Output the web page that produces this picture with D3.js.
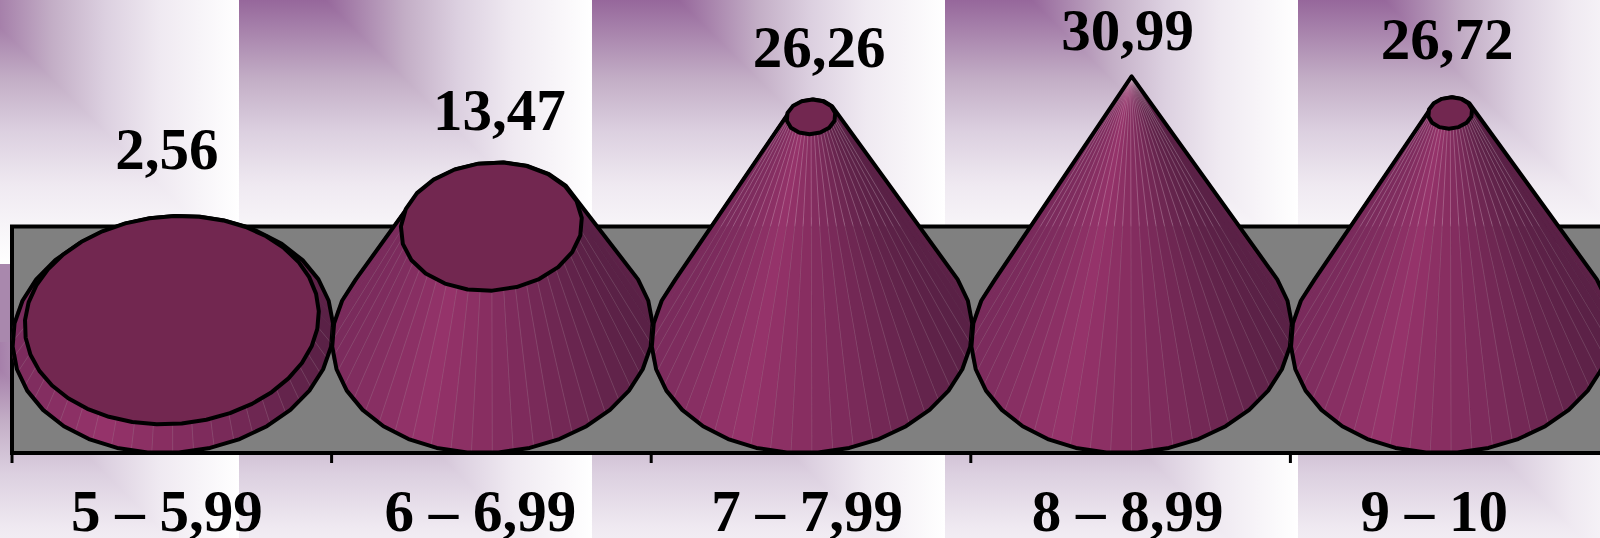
<!DOCTYPE html>
<html lang="en">

<head>
  <meta charset="UTF-8">
  <title>Cones</title>
  <style>
    * {
      margin: 0;
    }

    body {
      background: #fff;
      overflow: hidden;
    }

    svg {
      display: block;
    }

    text {
      font-family: "Liberation Serif", "Times New Roman", serif;
      font-weight: bold;
      font-size: 59px;
      fill: #000;
    }
  </style>
</head>

<body>
  <div id="chart"></div>
  <script src="https://cdnjs.cloudflare.com/ajax/libs/d3/7.8.5/d3.min.js"></script>
  <script>
    const categories = ['5 – 5,99', '6 – 6,99', '7 – 7,99', '8 – 8,99', '9 – 10'];
    const values = [2.56, 13.47, 26.26, 30.99, 26.72];

    // hand placed labels, the original has them off centre
    const labelDx = [-5, 8, 8, -3, -3];
    const labelGap = [46.5, 32, 33, 26.5, 38];
    const categoryDx = [-5, -11, -4, -3, -16];

    const width = 1600;
    const height = 538;
    const wallTop = 226.5;
    const wallBottom = 453;
    const baseY = 335;
    const baseRx = 160;
    const baseRy = 118;
    const capRatio = 0.71;
    const skew = 0.06; // the ellipses lean a little, bottom to the left
    const facets = 48;

    const svg = d3.select('#chart')
      .append('svg')
      .attr('width', width)
      .attr('height', height);

    const defs = svg.append('defs');

    // background tile: purple corner fading out, with a crease along the diagonal
    const fade = [
      [0, '#96679b'], [0.3, '#c3aec6'], [0.5, '#dcd0e0'], [0.7, '#efe9f1'], [1, '#ffffff']
    ];
    const tileW = 353;
    const tileH = 264;

    function addGradient(id, x1, y1, x2, y2) {
      const g = defs.append('linearGradient')
        .attr('id', id)
        .attr('gradientUnits', 'userSpaceOnUse')
        .attr('x1', x1).attr('y1', y1)
        .attr('x2', x2).attr('y2', y2);
      g.selectAll('stop').data(fade).join('stop')
        .attr('offset', d => d[0])
        .attr('stop-color', d => d[1]);
    }
    addGradient('fadeV', 0, 0, 0, tileH);
    addGradient('fadeH', 86, 0, tileW, 0);

    function addTile(id, y, shift) {
      const p = defs.append('pattern')
        .attr('id', id)
        .attr('patternUnits', 'userSpaceOnUse')
        .attr('x', -114).attr('y', y)
        .attr('width', tileW).attr('height', tileH + shift);
      if (shift) {
        p.append('rect')
          .attr('width', tileW).attr('height', shift + 1)
          .attr('fill', '#a988ad');
      }
      const g = p.append('g').attr('transform', `translate(0,${shift})`);
      g.append('rect')
        .attr('width', tileW).attr('height', tileH)
        .attr('fill', 'url(#fadeV)');
      g.append('path')
        .attr('d', `M86,0L${tileW},0L${tileW},${tileH}Z`)
        .attr('fill', 'url(#fadeH)');
    }
    addTile('tileTop', 0, 0);
    addTile('tileLow', 264, 78);

    // seams read lighter over the white part than over the wall
    defs.append('clipPath').attr('id', 'aboveWall').append('rect')
      .attr('width', width).attr('height', wallTop);
    defs.append('clipPath').attr('id', 'onWall').append('rect')
      .attr('y', wallTop).attr('width', width).attr('height', height - wallTop);

    svg.append('rect')
      .attr('width', width).attr('height', 264)
      .attr('fill', 'url(#tileTop)');
    svg.append('rect')
      .attr('y', 264)
      .attr('width', width).attr('height', height - 264)
      .attr('fill', 'url(#tileLow)');

    // scales
    const x = d3.scaleBand()
      .domain(categories)
      .range([12, 12 + 319.6 * categories.length]);
    const topY = d3.scaleLinear().domain([1.4, 31]).range([330, 76.3]);
    const topRx = d3.scaleLinear().domain([0, 31]).range([baseRx, 0]);
    const shade = d3.scaleLinear()
      .domain([-1, -0.4, 0.3, 1])
      .range(['#7a2b5c', '#96336a', '#7d2b5b', '#5a2146'])
      .interpolate(d3.interpolateRgb);

    // wall
    svg.append('rect')
      .attr('x', 12).attr('y', wallTop)
      .attr('width', width).attr('height', wallBottom - wallTop)
      .attr('fill', '#808080')
      .attr('stroke', '#000')
      .attr('stroke-width', 4);

    // category axis, ticks sit between the bands
    const axis = svg.append('g')
      .attr('transform', `translate(0,${wallBottom})`)
      .call(d3.axisBottom(x).tickSize(0).tickPadding(0));
    axis.select('.domain').remove();
    axis.selectAll('text')
      .attr('text-anchor', 'middle')
      .attr('dy', 0)
      .attr('y', 77.7)
      .attr('dx', (d, i) => categoryDx[i]);

    svg.append('g').selectAll('line')
      .data(categories)
      .join('line')
      .attr('x1', d => x(d)).attr('x2', d => x(d))
      .attr('y1', wallBottom).attr('y2', wallBottom + 10)
      .attr('stroke', '#000')
      .attr('stroke-width', 3);

    function ring(cx, cy, rx, ry, n) {
      return d3.range(n).map(i => {
        const a = (i / n) * 2 * Math.PI + Math.PI / n;
        return [cx + rx * Math.cos(a) - skew * rx * Math.sin(a), cy + ry * Math.sin(a)];
      });
    }

    // cones, left to right so each one overlaps the one before
    values.forEach((v, i) => {
      const cx = x(categories[i]) + x.bandwidth() / 2;
      const cy = topY(v);
      const rx = topRx(v);
      const ry = rx * capRatio;
      const base = ring(cx, baseY, baseRx, baseRy, facets);
      const top = ring(cx, cy, rx, ry, facets);
      const capSides = Math.max(14, Math.round(rx / 4));
      const g = svg.append('g');

      const quads = d3.range(facets).map(k => {
        const n = (k + 1) % facets;
        const a = ((k + 1) / facets) * 2 * Math.PI;
        return {
          pts: [base[k], base[n], top[n], top[k]],
          u: Math.cos(a),
          depth: Math.sin(a)
        };
      }).sort((p, q) => p.depth - q.depth);

      g.selectAll('path.facet')
        .data(quads)
        .join('path')
        .attr('class', 'facet')
        .attr('d', d => d3.line()(d.pts) + 'Z')
        .attr('fill', d => shade(d.u))
        .attr('stroke', d => shade(d.u))
        .attr('stroke-width', 0.6);

      // seams on the front of the cone only
      const front = d3.range(facets).filter(k => base[k][1] > baseY);
      const seams = [
        { clip: 'aboveWall', color: '#fff', opacity: 0.32 },
        { clip: 'onWall', color: '#b0a0a8', opacity: 0.3 }
      ];
      seams.forEach(s => {
        g.append('g')
          .attr('clip-path', `url(#${s.clip})`)
          .selectAll('line')
          .data(front)
          .join('line')
          .attr('x1', k => base[k][0]).attr('y1', k => base[k][1])
          .attr('x2', k => top[k][0]).attr('y2', k => top[k][1])
          .attr('stroke', s.color)
          .attr('stroke-opacity', s.opacity)
          .attr('stroke-width', 0.7);
      });

      const outline = d3.polygonHull(
        ring(cx, baseY, baseRx, baseRy, 32).concat(
          v > 30 ? [[cx, cy]] : ring(cx, cy, rx, ry, capSides))
      );
      g.append('path')
        .attr('transform', 'translate(1,0)')
        .attr('d', d3.line()(outline) + 'Z')
        .attr('fill', 'none')
        .attr('stroke', '#000')
        .attr('stroke-width', 4)
        .attr('stroke-linejoin', 'round');

      if (rx > 1) {
        g.append('path')
          .attr('d', d3.line()(ring(cx, cy, rx, ry, capSides)) + 'Z')
          .attr('fill', '#722750')
          .attr('stroke', '#000')
          .attr('stroke-width', 4)
          .attr('stroke-linejoin', 'round');
      }
    });

    // value labels
    svg.append('g').selectAll('text')
      .data(values)
      .join('text')
      .attr('text-anchor', 'middle')
      .attr('x', (d, i) => x(categories[i]) + x.bandwidth() / 2 + labelDx[i])
      .attr('y', (d, i) => topY(d) - topRx(d) * capRatio - labelGap[i])
      .text(d => d.toFixed(2).replace('.', ','));
  </script>
</body>

</html>
